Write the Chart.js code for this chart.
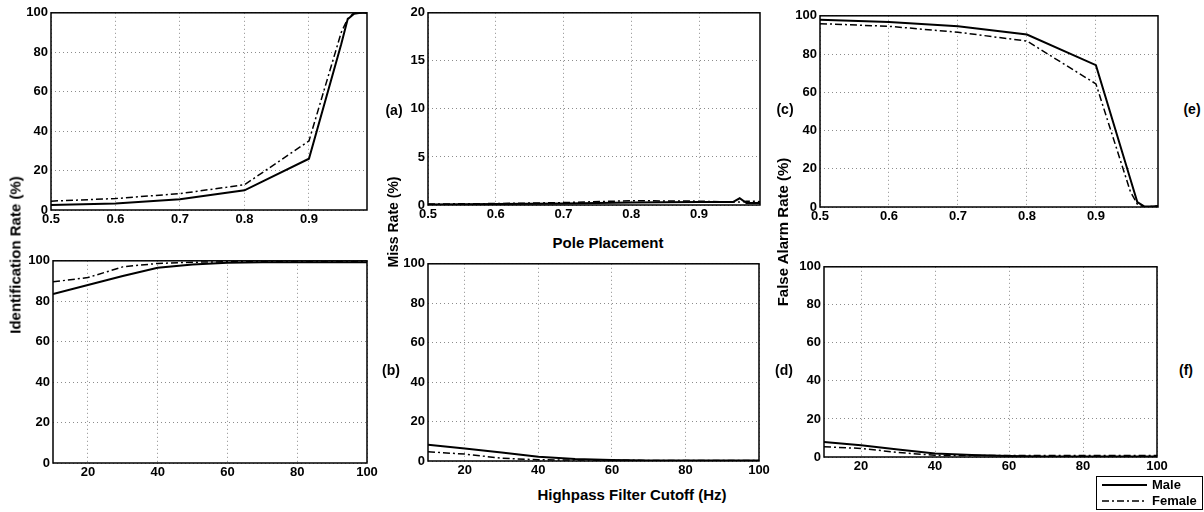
<!DOCTYPE html>
<html>
<head>
<meta charset="utf-8">
<script src="https://cdn.jsdelivr.net/npm/chart.js@4.4.1/dist/chart.umd.min.js"></script>
<style>
  body { margin: 0; background: #fff; width: 1204px; height: 512px; position: relative; overflow: hidden;
         font-family: "Liberation Sans", Arial, sans-serif; font-weight: bold; color: #000; }
  canvas { position: absolute; }
  .lbl { position: absolute; font-size: 15px; white-space: nowrap; transform: translate(-50%, -50%); }
  .tag { font-size: 14px; }
  .rot { transform: translate(-50%, -50%) rotate(-90deg); }
  #legend { position: absolute; left: 1096px; top: 476px; width: 105px; height: 32px; border: 1.5px solid #000;
            font-size: 13px; }
  #legend div { height: 16px; line-height: 16px; display: flex; align-items: center; }
  #legend svg { margin: 0 5px 0 5px; }
</style>
</head>
<body>
<canvas id="identPole"></canvas>
<canvas id="missPole"></canvas>
<canvas id="faPole"></canvas>
<canvas id="identHpf"></canvas>
<canvas id="missHpf"></canvas>
<canvas id="faHpf"></canvas>

<div class="lbl rot" style="left:15px;top:255px;">Identification Rate (%)</div>
<div class="lbl rot" style="left:393px;top:222px;font-size:14px;">Miss Rate (%)</div>
<div class="lbl rot" style="left:782px;top:232px;">False Alarm Rate (%)</div>
<div class="lbl" style="left:608px;top:242px;">Pole Placement</div>
<div class="lbl" style="left:632px;top:494px;">Highpass Filter Cutoff (Hz)</div>

<div class="lbl tag" style="left:394px;top:110px;">(a)</div>
<div class="lbl tag" style="left:785px;top:109px;">(c)</div>
<div class="lbl tag" style="left:1192px;top:109px;">(e)</div>
<div class="lbl tag" style="left:391px;top:370px;">(b)</div>
<div class="lbl tag" style="left:784px;top:370px;">(d)</div>
<div class="lbl tag" style="left:1186px;top:370px;">(f)</div>

<div id="legend">
  <div><svg width="45" height="4"><line x1="0" y1="2" x2="45" y2="2" stroke="#000" stroke-width="2"/></svg>Male</div>
  <div><svg width="45" height="4"><line x1="0" y1="2" x2="45" y2="2" stroke="#000" stroke-width="1.5" stroke-dasharray="7,3,2,3"/></svg>Female</div>
</div>

<script>
// x values
const polePlacement = [0.5, 0.6, 0.7, 0.8, 0.9, 0.95, 0.96, 0.97, 0.98, 0.99];
const hpfCutoff = [10, 20, 30, 40, 50, 60, 70, 80, 90, 100];

// tick labels
const poleTicks = [0.5, 0.6, 0.7, 0.8, 0.9];
const hpfTicks = [20, 40, 60, 80, 100];
const rateTicks = [0, 20, 40, 60, 80, 100];
const missPoleTicks = [0, 5, 10, 15, 20];

// series (%)
const identPoleMale   = [2.5, 3.3, 5.5, 10, 26, 84, 96.7, 99.5, 100, 100];
const identPoleFemale = [4.5, 5.8, 8.3, 12.8, 35, 90, 97, 100, 100, 100];
const missPoleMale    = [0.05, 0.1, 0.15, 0.25, 0.3, 0.3, 0.7, 0.2, 0.2, 0.2];
const missPoleFemale  = [0.1, 0.15, 0.25, 0.45, 0.4, 0.3, 0.3, 0.4, 0.4, 0.35];
const faPoleMale      = [97.9, 96.7, 94.5, 90.2, 74.2, 14.5, 2.6, 0.3, 0.3, 0.5];
const faPoleFemale    = [95.9, 94.5, 91.4, 86.8, 64.4, 8, 1.5, 0, 0.3, 0.5];
const identHpfMale    = [83.6, 88, 92.5, 96.6, 98.2, 99, 99.3, 99.3, 99.3, 99.3];
const identHpfFemale  = [89.6, 91.7, 97, 98.7, 99.3, 99.5, 99.5, 99.5, 99.5, 99.5];
const missHpfMale     = [8.3, 6.3, 4.3, 2.2, 1, 0.5, 0.3, 0.3, 0.3, 0.3];
const missHpfFemale   = [4.7, 3.5, 1.4, 0.6, 0.5, 0.4, 0.3, 0.3, 0.3, 0.3];
const faHpfMale       = [7.9, 6.2, 4, 1.9, 1, 0.5, 0.3, 0.3, 0.3, 0.3];
const faHpfFemale     = [5.4, 4.5, 2.4, 0.9, 0.7, 0.8, 0.8, 0.8, 0.8, 0.8];

const YW = 44, XH = 22, PAD_T = 8, PAD_R = 16;
const tickFont = { family: "Liberation Sans", size: 13, weight: "bold" };

// box around the plot area, like matlab
const boxPlugin = {
  id: "box",
  afterDraw(chart) {
    const { ctx, chartArea: a } = chart;
    ctx.save();
    ctx.strokeStyle = "#000";
    ctx.lineWidth = 1.5;
    ctx.strokeRect(a.left, a.top, a.right - a.left, a.bottom - a.top);
    ctx.restore();
  },
};

function panel(id, area, xs, male, female, xMin, xMax, xTicks, yMax, yTicks) {
  const el = document.getElementById(id);
  const w = area.r - area.l + YW + PAD_R;
  const h = area.b - area.t + PAD_T + XH;
  el.width = w;
  el.height = h;
  el.style.left = (area.l - YW) + "px";
  el.style.top = (area.t - PAD_T) + "px";
  el.style.width = w + "px";
  el.style.height = h + "px";

  const pts = (ys) => xs.map((x, i) => ({ x, y: ys[i] }));
  return new Chart(el, {
    type: "line",
    data: {
      datasets: [
        { label: "Male", data: pts(male), borderColor: "#000", borderWidth: 2, pointRadius: 0, tension: 0 },
        { label: "Female", data: pts(female), borderColor: "#000", borderWidth: 1.5, borderDash: [7, 3, 2, 3],
          pointRadius: 0, tension: 0 },
      ],
    },
    options: {
      responsive: false,
      animation: false,
      layout: { padding: { top: PAD_T, right: PAD_R, left: 0, bottom: 0 } },
      plugins: { legend: { display: false }, tooltip: { enabled: false } },
      scales: {
        x: {
          type: "linear",
          min: xMin,
          max: xMax,
          afterBuildTicks: (s) => { s.ticks = xTicks.map((v) => ({ value: v })); },
          afterFit: (s) => { s.height = XH; },
          ticks: { color: "#000", font: tickFont, padding: 2, maxRotation: 0, autoSkip: false },
          grid: { color: "#8c8c8c", drawTicks: false },
          border: { display: false, dash: [1, 3] },
        },
        y: {
          min: 0,
          max: yMax,
          afterBuildTicks: (s) => { s.ticks = yTicks.map((v) => ({ value: v })); },
          afterFit: (s) => { s.width = YW; },
          ticks: { color: "#000", font: tickFont, padding: 3, autoSkip: false },
          grid: { color: "#8c8c8c", drawTicks: false },
          border: { display: false, dash: [1, 3] },
        },
      },
    },
    plugins: [boxPlugin],
  });
}

panel("identPole", { l: 51, r: 367, t: 10, b: 210 }, polePlacement, identPoleMale, identPoleFemale, 0.5, 0.99, poleTicks, 100, rateTicks);
panel("missPole", { l: 428, r: 760, t: 10, b: 205 }, polePlacement, missPoleMale, missPoleFemale, 0.5, 0.99, poleTicks, 20, missPoleTicks);
panel("faPole", { l: 820, r: 1158, t: 13, b: 207 }, polePlacement, faPoleMale, faPoleFemale, 0.5, 0.99, poleTicks, 100, rateTicks);
panel("identHpf", { l: 53, r: 367, t: 258, b: 463 }, hpfCutoff, identHpfMale, identHpfFemale, 10, 100, hpfTicks, 100, rateTicks);
panel("missHpf", { l: 428, r: 759, t: 261, b: 461 }, hpfCutoff, missHpfMale, missHpfFemale, 10, 100, hpfTicks, 100, rateTicks);
panel("faHpf", { l: 824, r: 1157, t: 264, b: 457 }, hpfCutoff, faHpfMale, faHpfFemale, 10, 100, hpfTicks, 100, rateTicks);
</script>
</body>
</html>
